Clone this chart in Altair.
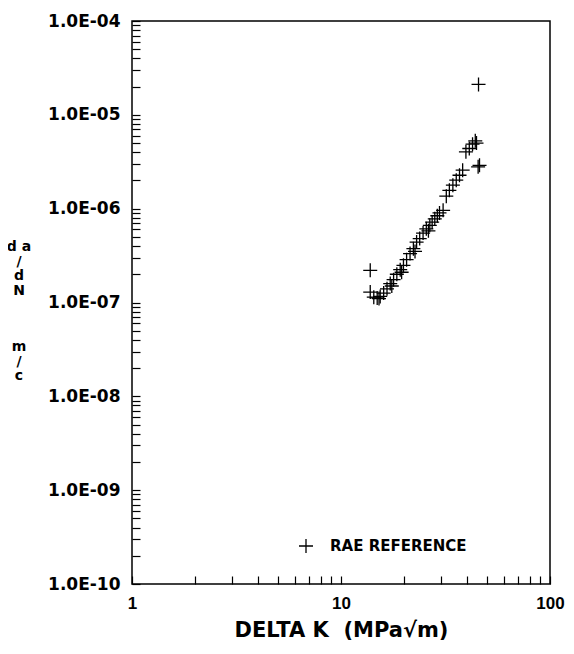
import altair as alt
import pandas as pd

# Data (Delta K in MPa*sqrt(m), da/dN in m/cycle)
delta_k = [13.8, 13.8, 14.35, 14.9, 15.2, 15.4, 16.0, 16.6, 17.2, 17.5, 17.85,
           18.5, 19.2, 19.5, 19.9, 20.6, 21.4, 22.2, 22.6, 23.0, 23.8, 24.7,
           25.6, 26.2, 26.6, 27.3, 28.1, 28.9, 29.6, 30.8, 31.9, 33.0, 34.3,
           35.6, 36.9, 38.2, 39.6, 41.1, 42.6, 43.9, 44.5, 45.3, 46.0, 45.5]
dadn = [2.2e-7, 1.29e-7, 1.14e-7, 1.12e-7, 1.10e-7, 1.16e-7, 1.26e-7, 1.40e-7,
        1.59e-7, 1.50e-7, 1.75e-7, 2.0e-7, 2.24e-7, 2.1e-7, 2.49e-7, 2.86e-7,
        3.32e-7, 3.75e-7, 3.5e-7, 4.41e-7, 4.8e-7, 5.5e-7, 6.1e-7, 5.8e-7,
        6.65e-7, 7.2e-7, 7.8e-7, 8.4e-7, 9.0e-7, 9.6e-7, 1.36e-6, 1.57e-6,
        1.78e-6, 2.01e-6, 2.27e-6, 2.57e-6, 4.03e-6, 4.38e-6, 4.87e-6, 5.28e-6,
        5.0e-6, 2.79e-6, 2.9e-6, 2.11e-5]
series = ["RAE REFERENCE"] * len(delta_k)

x_ticks = [m * 10.0 ** e for e in (0, 1) for m in range(1, 10)] + [100.0]
y_ticks = [m * 10.0 ** e for e in range(-10, -4) for m in range(1, 10)] + [1e-4]

y_title_top = ["d a", "/", "d", "N"]
y_title_bottom = ["m", "/", "c"]
x_title = "DELTA K\u00a0\u00a0(MPa\u221am)"

df = pd.DataFrame({"dk": delta_k, "dadn": dadn, "series": series})
one = pd.DataFrame({"k": [0]})

PLUS = "M-1,0L1,0M0,-1L0,1"
FONT = "DejaVu Sans"
XFONT = "Liberation Sans"

y_label_expr = (
    "abs(log(datum.value)/LN10 - round(log(datum.value)/LN10)) < 0.001 ? "
    "'1.0E-' + (-round(log(datum.value)/LN10) < 10 ? '0' : '') + "
    "toString(-round(log(datum.value)/LN10)) : ''"
)
x_label_expr = (
    "abs(log(datum.value)/LN10 - round(log(datum.value)/LN10)) < 0.001 ? "
    "toString(round(datum.value)) : ''"
)

points = alt.Chart(df).mark_point(
    filled=False, color="black", strokeWidth=1.3, size=196, opacity=1
).encode(
    x=alt.X(
        "dk:Q",
        scale=alt.Scale(type="log", domain=[1, 100], nice=False),
        axis=alt.Axis(
            values=x_ticks, labelExpr=x_label_expr, offset=-8, tickSize=8,
            tickColor="black", tickWidth=1.2, domain=False, grid=False,
            labelPadding=11, labelFont=XFONT, labelFontSize=17,
            labelFontWeight="bold", labelColor="black", labelOverlap=False,
            labelBound=False, labelFlush=False,
            title=x_title, titleFont=FONT, titleFontSize=21,
            titleFontWeight="bold", titleColor="black", titlePadding=8,
        ),
    ),
    y=alt.Y(
        "dadn:Q",
        scale=alt.Scale(type="log", domain=[1e-10, 1e-4], nice=False),
        axis=alt.Axis(
            values=y_ticks, labelExpr=y_label_expr, offset=-8, tickSize=8,
            tickColor="black", tickWidth=1.2, domain=False, grid=False,
            labelPadding=12, labelFont=FONT, labelFontSize=17,
            labelFontWeight="bold", labelColor="black", labelOverlap=False,
            labelBound=False, labelFlush=False, title=None,
        ),
    ),
    shape=alt.Shape(
        "series:N",
        scale=alt.Scale(range=[PLUS]),
        legend=alt.Legend(
            title=None, orient="none", legendX=166, legendY=517, padding=0,
            symbolSize=196, symbolStrokeWidth=1.3, symbolStrokeColor="black",
            symbolFillColor="transparent", labelFont=FONT, labelFontSize=15,
            labelFontWeight="bold", labelColor="black", labelOffset=16,
        ),
    ),
)

title_style = dict(font=FONT, fontSize=14, fontWeight="bold", color="black",
                   align="center", baseline="middle", lineHeight=14.7)
title_top = alt.Chart(one).mark_text(**title_style).encode(
    text=alt.value(y_title_top), x=alt.value(-113), y=alt.value(226)
)
title_bottom = alt.Chart(one).mark_text(**title_style).encode(
    text=alt.value(y_title_bottom), x=alt.value(-113), y=alt.value(326)
)

chart = alt.layer(points, title_top, title_bottom).properties(
    width=418,
    height=563,
    background="white",
    autosize=alt.AutoSizeParams(type="none"),
    padding={"left": 124, "top": 13, "right": 15, "bottom": 62},
).configure_view(
    stroke="black", strokeWidth=1.5
)

chart.save("out.html", embed_options={"renderer": "svg", "actions": False})
